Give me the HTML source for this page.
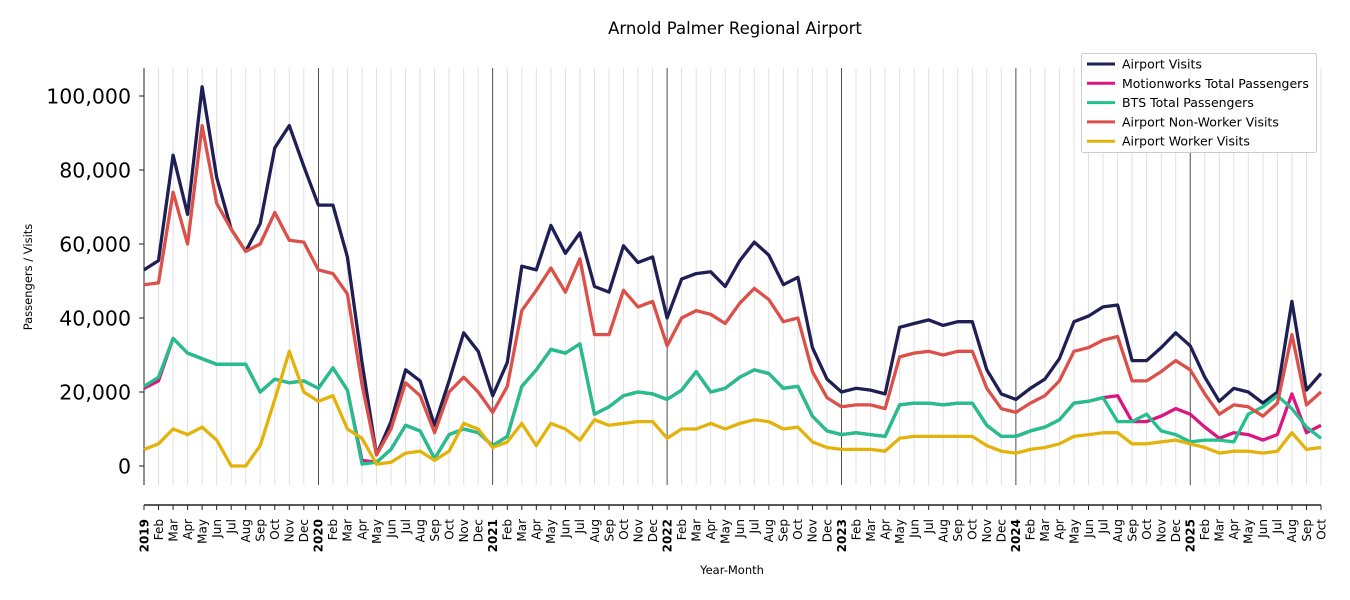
<!DOCTYPE html>
<html><head><meta charset="utf-8"><style>
body{margin:0;background:#fff;}
svg{display:block;font-family:"DejaVu Sans","Liberation Sans",sans-serif;}
</style></head><body>
<svg id="c" width="1350" height="600" xmlns="http://www.w3.org/2000/svg"></svg>
<script>
const s=document.getElementById('c');
const X0=144,DX=(1321-144)/81,Y0=466,K=3.7;
const x=i=>X0+i*DX, y=v=>Y0-v*K;
let h='';
h+='<text x="735" y="34" font-size="16.5" text-anchor="middle">Arnold Palmer Regional Airport</text>';
for(let i=0;i<82;i++){const xx=x(i).toFixed(1);
 if(i%12==0&&i>0) h+=`<line x1="${xx}" y1="68" x2="${xx}" y2="485" stroke="#222" stroke-width="0.8"/>`;
 else if(i>0) h+=`<line x1="${xx}" y1="68" x2="${xx}" y2="485" stroke="#e0e0e0" stroke-width="1"/>`;}
h+='<line x1="144" y1="68" x2="144" y2="485" stroke="#222" stroke-width="1"/>';
for(let v=0;v<=100;v+=20){const yy=y(v);h+=`<line x1="139" y1="${yy}" x2="144" y2="${yy}" stroke="#222"/>`;
 h+=`<text x="131" y="${yy+7.5}" font-size="20.5" text-anchor="end">${v==0?'0':v+',000'}</text>`;}
h+='<text transform="translate(32,277) rotate(-90)" font-size="11.5" text-anchor="middle">Passengers / Visits</text>';
h+='<line x1="144" y1="505" x2="1321" y2="505" stroke="#222" stroke-width="1.5"/>';
const M=['Jan','Feb','Mar','Apr','May','Jun','Jul','Aug','Sep','Oct','Nov','Dec'];
for(let i=0;i<82;i++){const xx=x(i);h+=`<line x1="${xx}" y1="505" x2="${xx}" y2="510" stroke="#222"/>`;
 const yr=i%12==0;const lab=yr?(2019+i/12):M[i%12];
 h+=`<text transform="translate(${xx+4.3},519) rotate(-90)" font-size="12" text-anchor="end" ${yr?'font-weight="bold"':''}>${lab}</text>`;}
h+='<text x="732" y="574" font-size="11.5" text-anchor="middle">Year-Month</text>';
const D={
av:[53,55.5,84,68,102.5,78,64,58,65.5,86,92,81,70.5,70.5,56.5,28,3,12,26,23,11,23,36,31,19,28,54,53,65,57.5,63,48.5,47,59.5,55,56.5,40,50.5,52,52.5,48.5,55.5,60.5,57,49,51,32,23.5,20,21,20.5,19.5,37.5,38.5,39.5,38,39,39,26,19.5,18,21,23.5,29,39,40.5,43,43.5,28.5,28.5,32,36,32.5,24,17.5,21,20,17,20,44.5,20.5,25],
nw:[49,49.5,74,60,92,71,64,58,60,68.5,61,60.5,53,52,46.5,22,3,10,22.5,19,9,20,24,20,14.5,21.5,42,47.5,53.5,47,56,35.5,35.5,47.5,43,44.5,32.5,40,42,41,38.5,44,48,45,39,40,25.5,18.5,16,16.5,16.5,15.5,29.5,30.5,31,30,31,31,21,15.5,14.5,17,19,23,31,32,34,35,23,23,25.5,28.5,26,19.5,14,16.5,16,13.5,17,35.5,16.5,20],
bts:[21.5,24,34.5,30.5,29,27.5,27.5,27.5,20,23.5,22.5,23,21,26.5,20.5,0.5,1,4.5,11,9.5,2,8.5,10,9,5.5,8,21.5,26,31.5,30.5,33,14,16,19,20,19.5,18,20.5,25.5,20,21,24,26,25,21,21.5,13.5,9.5,8.5,9,8.5,8,16.5,17,17,16.5,17,17,11,8,8,9.5,10.5,12.5,17,17.5,18.5,12,12,14,9.5,8.5,6.5,7,7,6.5,14,16,19,15.5,10.5,7.5],
w:[4.5,6,10,8.5,10.5,7,0,0,5.5,18,31,20,17.5,19,10,7.5,0.5,1,3.5,4,1.5,4,11.5,10,5,6.5,11.5,5.5,11.5,10,7,12.5,11,11.5,12,12,7.5,10,10,11.5,10,11.5,12.5,12,10,10.5,6.5,5,4.5,4.5,4.5,4,7.5,8,8,8,8,8,5.5,4,3.5,4.5,5,6,8,8.5,9,9,6,6,6.5,7,6,5,3.5,4,4,3.5,4,9,4.5,5]};
let mw=D.bts.slice();mw[0]=21;mw[1]=23;mw[15]=1.5;
[19,12,12,13.5,15.5,14,10.5,7.5,9,8.5,7,8.5,19.5,9,11].forEach((v,j)=>mw[67+j]=v);
D.mw=mw;
const pl=(a,c)=>`<polyline fill="none" stroke="${c}" stroke-width="3.3" stroke-linejoin="round" points="${a.map((v,i)=>x(i).toFixed(1)+','+y(v).toFixed(1)).join(' ')}"/>`;
h+=pl(D.av,'#1f1f55')+pl(D.mw,'#d9177f')+pl(D.bts,'#22c08f')+pl(D.nw,'#dc504a')+pl(D.w,'#e3b20b');
h+='<rect x="1081.5" y="53.5" width="235" height="99" rx="2" fill="#fff" fill-opacity="0.9" stroke="#ccc"/>';
const L=[['Airport Visits','#1f1f55'],['Motionworks Total Passengers','#d9177f'],['BTS Total Passengers','#22c08f'],['Airport Non-Worker Visits','#dc504a'],['Airport Worker Visits','#e3b20b']];
L.forEach((l,j)=>{const yy=64+j*19.3;h+=`<line x1="1087" y1="${yy}" x2="1115" y2="${yy}" stroke="${l[1]}" stroke-width="3"/><text x="1122" y="${yy+4.5}" font-size="12.5">${l[0]}</text>`;});
s.innerHTML=h;
</script>
</body></html>
